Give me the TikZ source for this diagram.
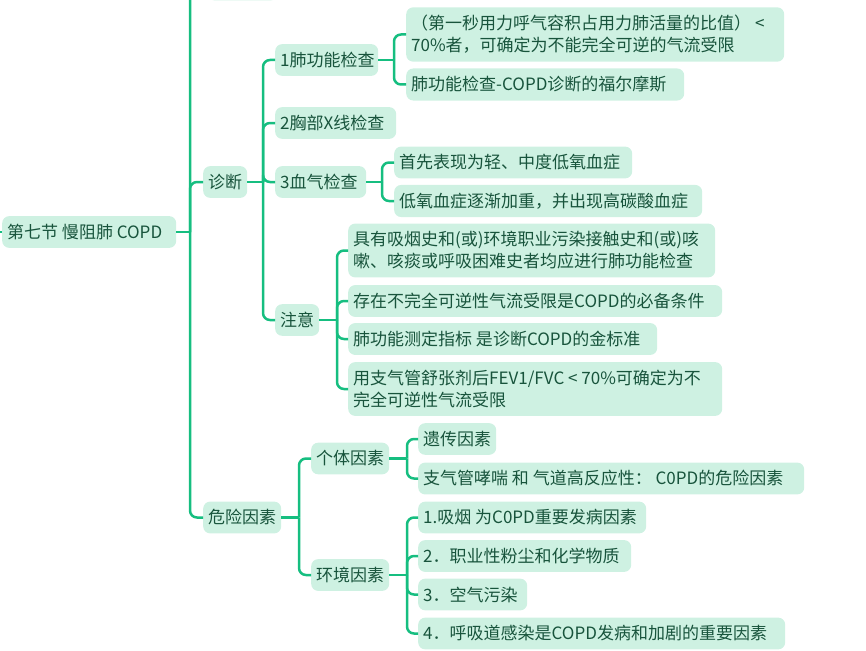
\documentclass[tikz,border=0pt]{standalone}
\usepackage{fontspec}
\setmainfont{Noto Sans CJK SC}
\definecolor{mapline}{RGB}{22,190,128}
\definecolor{mapfill}{RGB}{206,241,226}
\definecolor{maptext}{RGB}{24,84,60}
\begin{document}
\begin{tikzpicture}[
    x=1pt, y=-1pt,
    topic/.style={fill=mapfill, rounded corners=7pt, anchor=west, align=flush left, inner xsep=5pt, inner ysep=8pt, minimum height=31pt, text=maptext, font=\fontsize{17}{22}\selectfont},
    link/.style={draw=mapline, line width=2.5pt, rounded corners=7pt}
  ]
    \useasboundingbox (0,0) rectangle (866,650);

    \node[topic, minimum width=69pt] (prev) at (208,-15) {};
    \node[topic, text width=164pt] (root) at (2,232) {第七节 慢阻肺 COPD};

    \node[topic] (diag) at (203,182) {诊断};
    \node[topic, text width=93pt] (pft) at (275,60) {1肺功能检查};
    \node[topic, text width=111pt] (xray) at (275,123) {2胸部X线检查};
    \node[topic, text width=81pt] (gas) at (275,182) {3血气检查};
    \node[topic] (note) at (275,320) {注意};

    \node[topic, text width=368pt] (pftA) at (406,34.5) {（第一秒用力呼气容积占用力肺活量的比值） <\\70\%者，可确定为不能完全可逆的气流受限};
    \node[topic, text width=268pt] (pftB) at (406,84.5) {肺功能检查-COPD诊断的福尔摩斯};
    \node[topic, text width=228pt] (gasA) at (394,162.5) {首先表现为轻、中度低氧血症};
    \node[topic, text width=298pt] (gasB) at (394,201) {低氧血症逐渐加重，并出现高碳酸血症};

    \node[topic, text width=357pt] (noteA) at (348,250.5) {具有吸烟史和(或)环境职业污染接触史和(或)咳\\嗽、咳痰或呼吸困难史者均应进行肺功能检查};
    \node[topic, text width=364pt] (noteB) at (348,301) {存在不完全可逆性气流受限是COPD的必备条件};
    \node[topic, text width=299pt] (noteC) at (348,339) {肺功能测定指标 是诊断COPD的金标准};
    \node[topic, text width=364pt] (noteD) at (348,389) {用支气管舒张剂后FEV1/FVC < 70\%可确定为不\\完全可逆性气流受限};

    \node[topic] (risk) at (203,517.5) {危险因素};
    \node[topic] (indiv) at (311,458.5) {个体因素};
    \node[topic] (env) at (311,575) {环境因素};
    \node[topic] (indivA) at (418,439) {遗传因素};
    \node[topic, text width=376pt] (indivB) at (418,478.5) {支气管哮喘 和 气道高反应性： C0PD的危险因素};
    \node[topic, text width=218pt] (envA) at (418,517.5) {1.吸烟 为C0PD重要发病因素};
    \node[topic, text width=203pt] (envB) at (418,556) {2．职业性粉尘和化学物质};
    \node[topic, text width=99pt] (envC) at (418,594.5) {3．空气污染};
    \node[topic, text width=357pt] (envD) at (418,633.5) {4．呼吸道感染是COPD发病和加剧的重要因素};

    % junctions
    \coordinate (up) at (-20,232);
    \coordinate (jroot) at (190,232);
    \coordinate (jdiag) at (263,182);
    \coordinate (jpft) at (394,60);
    \coordinate (jgas) at (382,182);
    \coordinate (jnote) at (337,320);
    \coordinate (jrisk) at (299,517.5);
    \coordinate (jindiv) at (407,458.5);
    \coordinate (jenv) at (407,575);

    \draw[link] (up) -- (root.west);
    \draw[link] (root.east) -- (jroot);
    \draw[link] (jroot) |- (prev.west);
    \draw[link] (jroot) |- (diag.west);
    \draw[link] (jroot) |- (risk.west);

    \draw[link] (diag.east) -- (jdiag);
    \draw[link] (jdiag) |- (pft.west);
    \draw[link] (jdiag) |- (xray.west);
    \draw[link] (jdiag) |- (gas.west);
    \draw[link] (jdiag) |- (note.west);

    \draw[link] (pft.east) -- (jpft);
    \draw[link] (jpft) |- (pftA.west);
    \draw[link] (jpft) |- (pftB.west);
    \draw[link] (gas.east) -- (jgas);
    \draw[link] (jgas) |- (gasA.west);
    \draw[link] (jgas) |- (gasB.west);
    \draw[link] (note.east) -- (jnote);
    \draw[link] (jnote) |- (noteA.west);
    \draw[link] (jnote) |- (noteB.west);
    \draw[link] (jnote) |- (noteC.west);
    \draw[link] (jnote) |- (noteD.west);

    \draw[link] (risk.east) -- (jrisk);
    \draw[link] (jrisk) |- (indiv.west);
    \draw[link] (jrisk) |- (env.west);
    \draw[link] (indiv.east) -- (jindiv);
    \draw[link] (jindiv) |- (indivA.west);
    \draw[link] (jindiv) |- (indivB.west);
    \draw[link] (env.east) -- (jenv);
    \draw[link] (jenv) |- (envA.west);
    \draw[link] (jenv) |- (envB.west);
    \draw[link] (jenv) |- (envC.west);
    \draw[link] (jenv) |- (envD.west);
  \end{tikzpicture}
\end{document}
